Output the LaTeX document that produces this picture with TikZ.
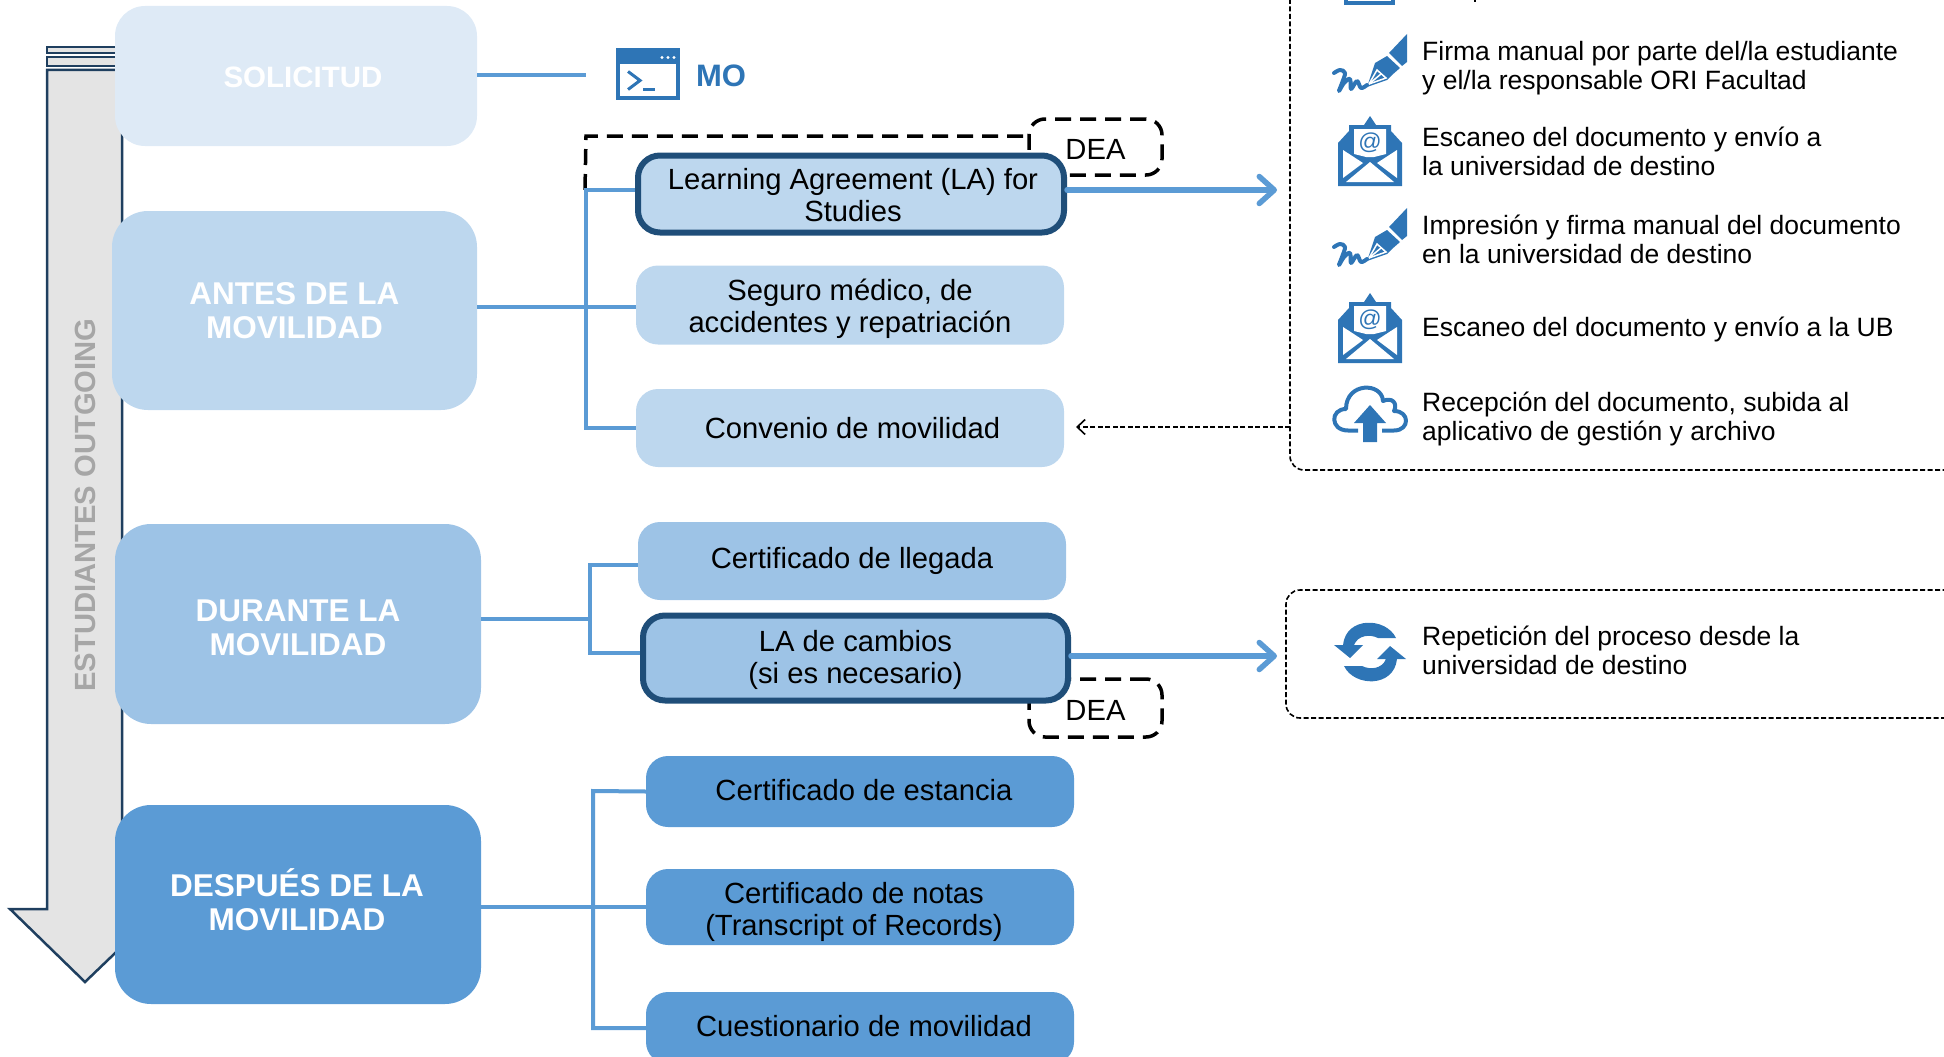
\documentclass[tikz,border=0pt]{standalone}
\usepackage{fontspec}
\setmainfont{Liberation Sans}
\usetikzlibrary{arrows.meta}

\definecolor{solblue}{HTML}{DEEAF6}
\definecolor{antesblue}{HTML}{BDD7EE}
\definecolor{durblue}{HTML}{9DC3E6}
\definecolor{desblue}{HTML}{5B9BD5}
\definecolor{iconblue}{HTML}{2E75B6}
\definecolor{darkblue}{HTML}{1F4E79}
\definecolor{arrowline}{HTML}{1F3F5F}
\definecolor{arrowgray}{HTML}{E4E4E4}

\tikzset{
    phase/.style={rounded corners=36pt, inner sep=0pt},
    phasetext/.style={inner sep=0pt, align=center, text=white, font=\fontsize{31.5}{34}\selectfont\bfseries},
    doc/.style={rounded corners=22pt, inner sep=0pt},
    doctext/.style={inner sep=0pt, align=center, text=black, font=\fontsize{29.2}{32}\selectfont},
    highlight/.style={doc, draw=darkblue, line width=6pt},
    link/.style={draw=desblue, line width=4pt},
    bigarrow/.style={link, line width=5.5pt, line cap=round, -{Straight Barb[length=15pt, width=27pt, line width=5.5pt, round]}},
    note/.style={anchor=west, inner sep=0pt, align=left, font=\fontsize{26.5}{29}\selectfont},
    dashbox/.style={draw, rounded corners=14pt, dash pattern=on 5pt off 2.5pt, line width=1.6pt},
    deabox/.style={draw, rounded corners=16pt, line width=3.5pt, dash pattern=on 16pt off 9pt, inner sep=0pt},
    pics/windowicon/.style={code={
        \fill [iconblue] (-32, -25) rectangle (32, 26);
        \fill [white] (-28, -9) rectangle (28, 22);
        \fill [white] (14, -16) circle (1.6) (20, -16) circle (1.6) (26, -16) circle (1.6);
        \draw [iconblue, line width=3pt] (-20, -2) -- (-8, 7) -- (-20, 16);
        \draw [iconblue, line width=3.5pt] (-5, 16) -- (7, 16);
    }},
    pics/penicon/.style={code={
        \fill [iconblue] (37, -30) -- (37, -2) -- (32, 2) -- (19, -11) -- cycle; % top of the pen
        \fill [iconblue] (17, -8) -- (30, 4) -- (22, 11) -- (17, 16) -- (-3, 23) -- (5, -1) -- cycle; % body
        \draw [white, line width=1.5pt] (-1, 20) -- (7, 6) -- (16, 14) -- cycle; % nib
        \draw [white, line width=1.5pt] (-1, 20) -- (11, 10);
        \draw [iconblue, line width=4pt, line cap=round, line join=round] plot [smooth, tension=0.6] coordinates {(-36, 9) (-30, 6) (-25, 9) (-28, 19) (-31, 27) (-26, 19) (-20, 15) (-19, 25) (-13, 17) (-9, 24) (-3, 21)};
    }},
    pics/mailicon/.style={code={
        \fill [iconblue] (-32, -8) -- (-21, -20) -- (-21, -26) -- (-6, -26) -- (0, -35) -- (6, -26) -- (21, -26) -- (21, -20) -- (32, -8) -- (32, 35) -- (-32, 35) -- cycle;
        \fill [white] (-16, -22) -- (16, -22) -- (16, 3) -- (4, 6) -- (-4, 6) -- (-16, 3) -- cycle;
        \fill [white] (-27, -1) -- (-7, 12) -- (-27, 27) -- cycle;
        \fill [white] (27, -1) -- (7, 12) -- (27, 27) -- cycle;
        \fill [white] (-24, 31) -- (0, 11) -- (24, 31) -- cycle;
        \node [iconblue, inner sep=0pt, font=\fontsize{23}{23}\selectfont] at (0, -8) {@};
    }},
    pics/cloudicon/.style={code={
        \draw [iconblue, line width=4pt, line join=round] (-12, 15.5) -- (-22, 15.5) .. controls (-40, 15.5) and (-40, -6) .. (-24, -6) .. controls (-24, -33) and (12, -33) .. (13, -14) .. controls (22, -18) and (28, -12) .. (24, -4) .. controls (40, -4) and (40, 15.5) .. (24, 15.5) -- (12, 15.5);
        \fill [iconblue] (0, -10) -- (16, 8) -- (7, 8) -- (7, 27) -- (-7, 27) -- (-7, 8) -- (-16, 8) -- cycle;
    }},
    pics/refreshicon/.style={code={
        \fill [iconblue] (26, -14) .. controls (16, -35) and (-24, -36) .. (-27, -7) -- (-36, -7) -- (-20, 6) -- (-7, -7) -- (-16, -7) .. controls (-12, -17) and (0, -18) .. (8, -14) -- cycle;
        \fill [iconblue] (-26, 14) .. controls (-16, 35) and (24, 36) .. (27, 7) -- (36, 7) -- (20, -6) -- (7, 7) -- (16, 7) .. controls (12, 17) and (0, 18) .. (-8, 14) -- cycle;
    }},
}

\begin{document}
\begin{tikzpicture}[x=1pt, y=-1pt]
    \clip (0, 0) rectangle (1944, 1057);

    % big arrow on the left
    \draw [draw=arrowline, fill=arrowgray, line width=2.5pt] (47, 70) -- (122, 70) -- (122, 909) -- (161, 909) -- (85, 982) -- (10, 909) -- (47, 909) -- cycle;
    \draw [draw=arrowline, fill=arrowgray, line width=2.5pt] (47, 47) rectangle (122, 53);
    \draw [draw=arrowline, fill=arrowgray, line width=2.5pt] (47, 57) rectangle (122, 66);
    \node [rotate=90, text=black!35, font=\fontsize{29.2}{29}\selectfont\bfseries] (direction) at (85, 505) {ESTUDIANTES OUTGOING};

    % dashed outline and DEA labels, under the boxes
    \node [deabox, minimum width=133pt, minimum height=56pt, label={[doctext, yshift=-2.5pt]center:DEA}] (dea top) at (1095.5, 147) {};
    \node [deabox, minimum width=133pt, minimum height=58pt, label={[doctext, yshift=-2.5pt]center:DEA}] (dea bottom) at (1095.5, 708) {};
    \coordinate (corner a) at (585, 190);
    \coordinate (corner b) at (586, 136);
    \coordinate (corner c) at (1029, 136);
    \draw [line width=3.5pt, dash pattern=on 16pt off 9pt] (corner a) -- (corner b) -- (corner c);

    % phases
    \node [phase, rounded corners=30pt, fill=solblue, minimum width=362pt, minimum height=140pt, label={[phasetext, font=\fontsize{29.5}{34}\selectfont\bfseries, xshift=7pt, yshift=-1pt]center:SOLICITUD}] (solicitud) at (296, 76) {};
    \node [phase, fill=antesblue, minimum width=365pt, minimum height=199pt, label={[phasetext]center:ANTES DE LA\\MOVILIDAD}] (antes) at (294.5, 310.5) {};
    \node [phase, fill=durblue, minimum width=366pt, minimum height=200pt, label={[phasetext, yshift=-4pt]center:DURANTE LA\\MOVILIDAD}] (durante) at (298, 624) {};
    \node [phase, fill=desblue, minimum width=366pt, minimum height=199pt, label={[phasetext, xshift=-1pt, yshift=5pt]center:DESPUÉS DE LA\\MOVILIDAD}] (despues) at (298, 904.5) {};

    % documents
    \node [highlight, fill=antesblue, minimum width=426pt, minimum height=77pt, label={[doctext, xshift=2pt, yshift=-1pt]center:Learning Agreement (LA) for\\Studies}] (learning) at (851, 194) {};
    \node [doc, fill=antesblue, minimum width=428pt, minimum height=79pt, label={[doctext, yshift=-4pt]center:{Seguro médico, de\\accidentes y repatriación}}] (seguro) at (850, 305) {};
    \node [doc, fill=antesblue, minimum width=428pt, minimum height=78pt, label={[doctext, xshift=2.5pt]center:Convenio de movilidad}] (convenio) at (850, 428) {};
    \node [doc, fill=durblue, minimum width=428pt, minimum height=78pt, label={[doctext]center:Certificado de llegada}] (llegada) at (852, 561) {};
    \node [highlight, fill=durblue, minimum width=425pt, minimum height=85pt, label={[doctext, yshift=-2pt]center:LA de cambios\\(si es necesario)}] (cambios) at (855.5, 658) {};
    \node [doc, fill=desblue, minimum width=428pt, minimum height=71pt, label={[doctext, xshift=4pt, yshift=1pt]center:Certificado de estancia}] (estancia) at (860, 791.5) {};
    \node [doc, fill=desblue, minimum width=428pt, minimum height=76pt, label={[doctext, xshift=-6pt, yshift=-5pt]center:Certificado de notas\\(Transcript of Records)}] (notas) at (860, 907) {};
    \node [doc, fill=desblue, minimum width=428pt, minimum height=72pt, label={[doctext, xshift=4pt, yshift=2pt]center:Cuestionario de movilidad}] (cuestionario) at (860, 1028) {};

    % connectors
    \coordinate (mo end) at (586, 75);
    \coordinate (antes mid) at (586, 307);
    \coordinate (learning mid) at (586, 190);
    \draw [link] (solicitud.east |- mo end) -- (mo end);
    \draw [link] (antes.east |- antes mid) -- (seguro.west |- antes mid);
    \draw [link] (learning.west |- learning mid) -- (learning mid) -- (586, 428) -- (convenio.west);
    \draw [link] (durante.east |- 0, 619) -- (590, 619);
    \draw [link] (llegada.west |- 0, 565) -- (590, 565) -- (590, 653) -- (cambios.west |- 0, 653);
    \draw [link] (despues.east |- 0, 907) -- (notas.west);
    \draw [link] (estancia.west) -- (593, 791) -- (593, 1028) -- (cuestionario.west);

    % dashed frames on the right
    \draw [dashbox] (2000, 470) -- (1290, 470) -- (1290, -30);
    \draw [dashbox] (2000, 590) -- (1286, 590) -- (1286, 718) -- (2000, 718);

    \coordinate (frame top) at (1277, 190);
    \coordinate (frame bottom) at (1277, 656);
    \coordinate (frame left) at (1290, 427);
    \coordinate (convenio tip) at (1076, 427);
    \draw [bigarrow] (learning.east |- frame top) -- (frame top);
    \draw [bigarrow] (cambios.east |- frame bottom) -- (frame bottom);
    \draw [line width=1.6pt, dash pattern=on 5pt off 2.5pt, -{Straight Barb[length=8pt, width=15pt, line width=1.6pt]}] (frame left) -- (convenio tip);

    % icons
    \pic at (648, 73.5) {windowicon};
    \node [text=iconblue, inner sep=0pt, font=\fontsize{31}{31}\selectfont\bfseries] (mo) at (721, 76) {MO};
    \draw [draw=iconblue, line width=4pt] (1346, -20) rectangle (1393, 3); % cut off by the page
    \fill (1474, 0) rectangle (1476, 2.5);
    \pic at (1370, 64) {penicon};
    \pic at (1370, 151) {mailicon};
    \pic at (1370, 238) {penicon};
    \pic at (1370, 328) {mailicon};
    \pic at (1370, 415) {cloudicon};
    \pic at (1370, 652) {refreshicon};

    % notes next to the icons
    \node [note] (firma) at (1422, 68) {Firma manual por parte del/la estudiante\\y el/la responsable ORI Facultad};
    \node [note] (escaneo) at (1422, 151.5) {Escaneo del documento y envío a\\la universidad de destino};
    \node [note] (impresion) at (1422, 239.5) {Impresión y firma manual del documento\\en la universidad de destino};
    \node [note] (escaneo ub) at (1422, 329.5) {Escaneo del documento y envío a la UB};
    \node [note] (recepcion) at (1422, 419) {Recepción del documento, subida al\\aplicativo de gestión y archivo};
    \node [note] (repeticion) at (1422, 650) {Repetición del proceso desde la\\universidad de destino};
\end{tikzpicture}
\end{document}
